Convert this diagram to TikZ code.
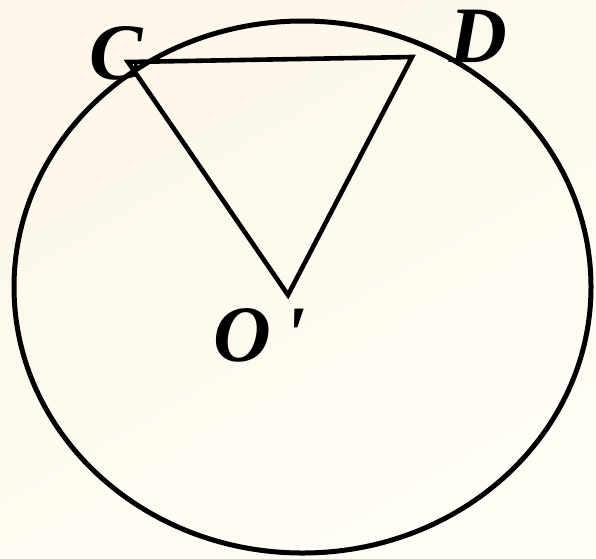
\documentclass[tikz,border=0pt]{standalone}
\usepackage{fontspec}
\newfontfamily\lblfont{Liberation Serif}
\definecolor{bgcol}{RGB}{253,247,233}
\definecolor{bgcolb}{RGB}{255,253,246}
\tikzset{
  lbl/.style={font=\lblfont\bfseries\itshape\fontsize{80}{80}\selectfont, anchor=base, inner sep=0pt},
  rim/.style={line width=5pt},
  tri/.style={line width=4.6pt, line join=miter}
}
\begin{document}
\begin{tikzpicture}[x=1pt,y=-1pt]
\shade[top color=bgcol, bottom color=bgcolb, shading angle=30] (0,0) rectangle (596,558);
\useasboundingbox (0,0) rectangle (596,558);
\coordinate (ctr) at (302.5,287);
\draw[rim] (ctr) ellipse [x radius=288.5, y radius=266];
\coordinate (C) at (128,62);
\coordinate (D) at (412,57);
\coordinate (O) at (288,295);
\draw[tri] (C) -- (D) -- (O) -- cycle;
\node[lbl] (lC) at (116,79) {C};
\node[lbl] (lD) at (478,62) {D};
\node[lbl] (lO) at (242,361) {O};
\node[lbl] (lP) at (295,361) {\symbol{"27}};
\end{tikzpicture}
\end{document}
